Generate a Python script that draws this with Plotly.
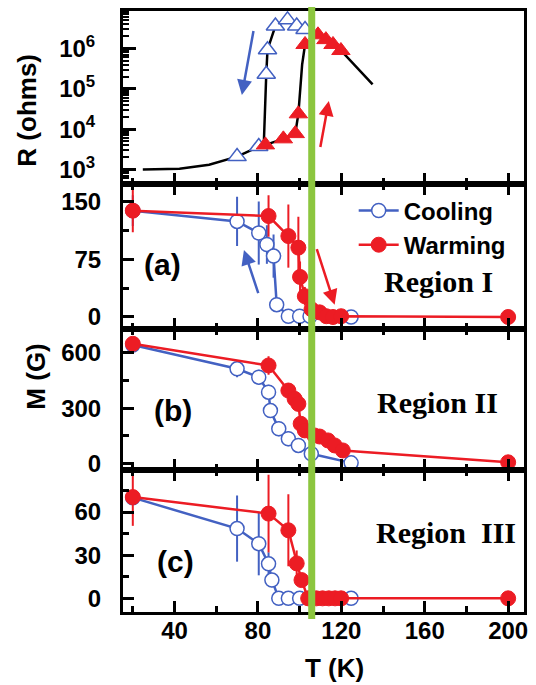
import plotly.graph_objects as go

# ---------------- data ----------------
# Top panel: resistance (log10 of ohms) vs T
T_R_cool = [70, 80.4, 84.0, 84.6, 88.4, 94.2, 98.6, 102.6]
logR_cool = [3.32, 3.57, 5.36, 5.97, 6.56, 6.71, 6.56, 6.47]
T_R_warm = [83.6, 92.2, 97.9, 99.4, 102.6, 108.8, 112.6, 116.0, 119.8]
logR_warm = [3.61, 3.76, 3.89, 4.38, 6.10, 6.34, 6.22, 6.10, 5.95]
T_R_curve_cool = [24.8, 42.4, 56.6, 70, 80.4, 82.8, 84.0, 84.6, 88.4, 94.2, 98.6, 102.6]
logR_curve_cool = [3.0, 3.02, 3.12, 3.32, 3.57, 3.6, 5.36, 5.97, 6.56, 6.71, 6.56, 6.47]
T_R_curve_warm = [80.4, 83.6, 92.2, 97.9, 99.4, 101.2, 102.6, 108.8, 112.6, 116.0, 119.8, 135.0]
logR_curve_warm = [3.57, 3.61, 3.76, 3.89, 4.38, 5.6, 6.10, 6.34, 6.22, 6.10, 5.95, 5.11]

# Panel (a) Region I
T_a_cool = [20, 70, 80.4, 84.3, 87.5, 89.0, 94.6, 100.0, 105.0, 124.7]
M_a_cool = [138, 124, 109, 94, 79, 16, 1, 1, 1, 0]
E_a_cool = [20, 32, 41, 25, 28, 6, 2, 2, 2, 2]
T_a_warm = [20, 85.1, 94.6, 99.4, 100.2, 102.5, 105.7, 109.6, 112.8, 116.0, 119.9, 200]
M_a_warm = [138, 131, 105, 90, 52, 27, 10, 6, 1, 0, 1, 0]
E_a_warm = [28, 27, 41, 40, 20, 12, 6, 3, 2, 2, 2, 2]

# Panel (b) Region II
T_b_cool = [20, 70, 80.4, 85.1, 86.0, 90.0, 94.6, 99.4, 105.6, 124.7]
M_b_cool = [640, 512, 467, 386, 287, 189, 135, 99, 54, 5]
E_b_cool = [20, 45, 40, 40, 40, 40, 40, 35, 20, 10]
T_b_warm = [20, 85.1, 94.6, 97.6, 99.4, 100.5, 102.5, 107.0, 109.6, 113.6, 116.8, 120.7, 200]
M_b_warm = [647, 530, 395, 350, 323, 216, 180, 153, 147, 126, 99, 72, 8]
E_b_warm = [20, 50, 40, 40, 35, 30, 30, 25, 25, 25, 25, 20, 10]

# Panel (c) Region III
T_c_cool = [20, 70, 80.4, 85.1, 86.7, 90.0, 94.6, 100.0, 105.0, 124.7]
M_c_cool = [70, 48.5, 38, 24, 12.7, 0, 0, 0, 0, 0]
E_c_cool = [5, 23, 22, 8, 5, 1, 1, 1, 1, 1]
T_c_warm = [20, 85.1, 94.6, 98.6, 100.9, 104.1, 108.0, 111.0, 114.0, 117.0, 119.9, 200]
M_c_warm = [70.4, 58.9, 47.3, 24.3, 12.7, 0, 0, 0, 0, 0, 0, 0]
E_c_warm = [20, 27, 25, 9, 5, 1, 1, 1, 1, 1, 1, 1]

T_transition = 105.8

x_tickvals = [40, 80, 120, 160, 200]
R_tickvals = [1e3, 1e4, 1e5, 1e6]
R_ticktext = ["10<sup>3</sup>", "10<sup>4</sup>", "10<sup>5</sup>", "10<sup>6</sup>"]

# ---------------- style ----------------
BLUE = "#4361c2"
RED = "#ec1c24"
GREEN = "#8cc63f"
FONT = "Liberation Sans, Arial, sans-serif"
SERIF = "Liberation Serif, Times New Roman, serif"

W, H = 536, 685
L, R, T, B = 123, 528, 9, 612  # plot area pixels


def px(x):
    return (x - L) / (R - L)


def py(y):
    return (B - y) / (B - T)


bounds = [(9, 183), (183, 328), (328, 470), (470, 612)]
domains = [[py(b), py(t)] for t, b in bounds]

fig = go.Figure()

# top panel
fig.add_trace(go.Scatter(x=T_R_curve_cool, y=[10 ** v for v in logR_curve_cool], mode="lines",
                         line=dict(color="black", width=2.5), showlegend=False, xaxis="x", yaxis="y"))
fig.add_trace(go.Scatter(x=T_R_curve_warm, y=[10 ** v for v in logR_curve_warm], mode="lines",
                         line=dict(color="black", width=2.5), showlegend=False, xaxis="x", yaxis="y"))
fig.add_trace(go.Scatter(x=T_R_cool, y=[10 ** v for v in logR_cool], mode="markers",
                         marker=dict(symbol="triangle-up", size=16, color="white",
                                     line=dict(color=BLUE, width=1.5)),
                         showlegend=False, xaxis="x", yaxis="y"))
fig.add_trace(go.Scatter(x=T_R_warm, y=[10 ** v for v in logR_warm], mode="markers",
                         marker=dict(symbol="triangle-up", size=16, color=RED,
                                     line=dict(color=RED, width=1)),
                         showlegend=False, xaxis="x", yaxis="y"))

panels = [
    ("2", T_a_cool, M_a_cool, E_a_cool, T_a_warm, M_a_warm, E_a_warm, True),
    ("3", T_b_cool, M_b_cool, E_b_cool, T_b_warm, M_b_warm, E_b_warm, False),
    ("4", T_c_cool, M_c_cool, E_c_cool, T_c_warm, M_c_warm, E_c_warm, False),
]
for ax, tc, mc, ec, tw, mw, ew, leg in panels:
    fig.add_trace(go.Scatter(x=tc, y=mc, mode="lines+markers", name="Cooling",
                             line=dict(color=BLUE, width=2.5),
                             marker=dict(symbol="circle", size=14, color="white",
                                         line=dict(color=BLUE, width=1.5)),
                             error_y=dict(type="data", array=ec, width=0, thickness=2, color=BLUE),
                             showlegend=leg, xaxis="x" + ax, yaxis="y" + ax))
    fig.add_trace(go.Scatter(x=tw, y=mw, mode="lines+markers", name="Warming",
                             line=dict(color=RED, width=2.5),
                             marker=dict(symbol="circle", size=15, color=RED,
                                         line=dict(color=RED, width=1)),
                             error_y=dict(type="data", array=ew, width=0, thickness=2, color=RED),
                             showlegend=leg, xaxis="x" + ax, yaxis="y" + ax))

tickfont = dict(family=FONT, size=24, color="black", weight="bold")

xcommon = dict(range=[15.3, 207.6], showline=True, linecolor="black", linewidth=3,
               ticks="inside", ticklen=11, tickwidth=2.5, tickcolor="black",
               tickvals=x_tickvals, showgrid=False, zeroline=False,
               minor=dict(ticks="inside", ticklen=6, tickwidth=2.5, tickcolor="black",
                          tickvals=[20, 60, 100, 140, 180]))

lay = dict(
    width=W, height=H, paper_bgcolor="white", plot_bgcolor="white",
    margin=dict(l=L, r=W - R, t=T, b=H - B),
    font=dict(family=FONT, color="black"),
)
for i, ax in enumerate(["", "2", "3", "4"]):
    xa = dict(xcommon)
    xa["domain"] = [0, 1]
    xa["anchor"] = "y" + ax
    xa["mirror"] = True if ax == "" else "ticks"
    if ax != "4":
        xa["showticklabels"] = False
    else:
        xa["tickfont"] = tickfont
        xa["ticklabelstandoff"] = -5
    if ax != "":
        xa["matches"] = "x"
    lay["xaxis" + ax] = xa

ycommon = dict(showline=True, linecolor="black", linewidth=3, mirror=True,
               ticks="inside", ticklen=11, tickwidth=2.5, tickcolor="black",
               showgrid=False, zeroline=False, tickfont=tickfont, ticklabelstandoff=14)

lay["yaxis"] = dict(ycommon, domain=domains[0], anchor="x", type="log", range=[2.63, 6.93],
                    tickvals=R_tickvals, ticktext=R_ticktext, ticklen=13, ticklabelstandoff=20,
                    minor=dict(ticks="inside", ticklen=6, tickwidth=2, tickcolor="black",
                               tickvals=[m * 10 ** e for e in range(2, 7) for m in range(2, 10)]))
lay["yaxis2"] = dict(ycommon, domain=domains[1], anchor="x2", range=[-15.5, 172],
                     tickvals=[0, 75, 150],
                     minor=dict(ticks="inside", ticklen=6, tickwidth=2.5, tickcolor="black",
                                tickvals=[37.5, 112.5]))
lay["yaxis3"] = dict(ycommon, domain=domains[2], anchor="x3", range=[-36, 727],
                     tickvals=[0, 300, 600],
                     minor=dict(ticks="inside", ticklen=6, tickwidth=2.5, tickcolor="black",
                                tickvals=[150, 450]))
lay["yaxis4"] = dict(ycommon, domain=domains[3], anchor="x4", range=[-9.5, 88.9],
                     tickvals=[0, 30, 60],
                     minor=dict(ticks="inside", ticklen=6, tickwidth=2.5, tickcolor="black",
                                tickvals=[15, 45, 75]))

lay["legend"] = dict(x=px(356), y=py(187), xanchor="left", yanchor="top",
                     bgcolor="rgba(0,0,0,0)", borderwidth=0, tracegroupgap=0,
                     font=dict(family=FONT, size=24, color="black", weight="bold"),
                     itemwidth=40)

fig.update_layout(**lay)

# green transition line
fig.add_shape(type="line", xref="x", yref="paper", x0=T_transition, x1=T_transition,
              y0=py(619), y1=py(5), line=dict(color=GREEN, width=7), layer="above")

def txt(text, x, y, size, family=FONT, angle=0):
    fig.add_annotation(text=text, x=px(x), y=py(y), xref="paper", yref="paper",
                       showarrow=False, xanchor="center", yanchor="middle", textangle=angle,
                       font=dict(family=family, size=size, color="black", weight="bold"))

txt("R (ohms)", 26, 108, 26, angle=-90)
txt("M (G)", 35, 376, 26, angle=-90)
txt("T (K)", 337, 668, 26)
txt("(a)", 163, 263, 30)
txt("(b)", 173, 410, 30)
txt("(c)", 176, 561, 30)
txt("Region I", 442, 280, 30, family=SERIF)
txt("Region II", 441, 402, 30, family=SERIF)
txt("Region  III", 449, 532, 30, family=SERIF)

def arrow(xr, yr, x0, y0, x1, y1, color):
    fig.add_annotation(x=x1, y=y1, ax=x0, ay=y0, xref=xr, yref=yr, axref=xr, ayref=yr,
                       showarrow=True, arrowhead=2, arrowsize=1.2, arrowwidth=2.5,
                       arrowcolor=color, text="")

arrow("x", "y", 78, 6.47, 72.3, 4.85, BLUE)
arrow("x", "y", 109.8, 3.52, 114, 4.7, RED)
arrow("x2", "y2", 80.4, 29, 73.3, 87, BLUE)
arrow("x2", "y2", 108, 90, 116.8, 16, RED)

fig.write_html("out.html", config={"displayModeBar": False},
               post_script="document.body.style.margin='0';document.body.style.overflow='hidden';")
